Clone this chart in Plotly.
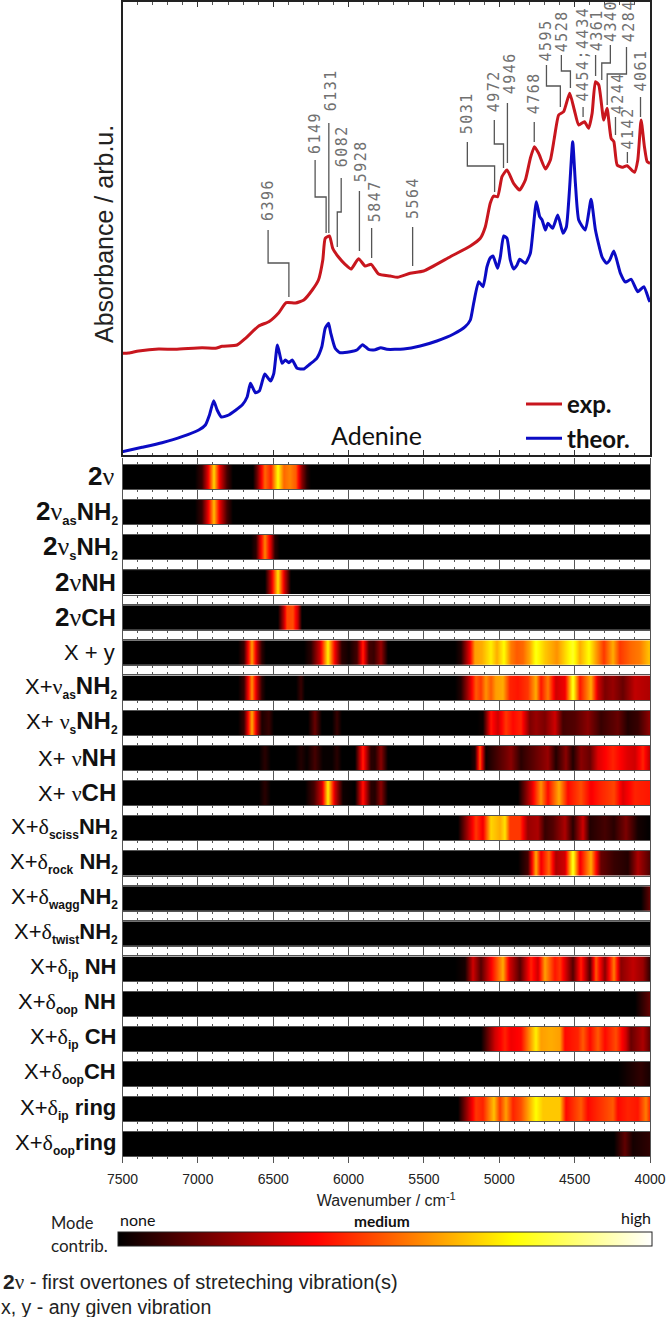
import plotly.graph_objects as go

W, H = 666, 1317

# ---- spectra (wavenumber, absorbance in arbitrary units) ----
wn_theor = [7503,7370,7238,7105,6994,6950,6923,6895,6872,6844,6795,6706,6673,6651,6618,6591,6556,6518,6496,6472,6441,6419,6396,6374,6341,6297,6255,6211,6178,6155,6133,6118,6089,6056,5989,5945,5907,5868,5823,5786,5746,5635,5525,5414,5303,5226,5192,5170,5137,5108,5082,5060,5042,5011,4993,4971,4949,4927,4905,4882,4865,4827,4794,4776,4754,4732,4716,4694,4677,4646,4612,4577,4555,4533,4513,4495,4473,4429,4391,4362,4318,4289,4267,4240,4196,4163,4125,4081,4041,4008,4000]
abs_theor = [3.3,7.7,12.3,18.3,25,30,40,54.3,45,38,40,50,58,71.7,62.3,64.3,81,74,81.7,110,91.7,95,92.3,95,86.7,86,91,96.7,108,126.7,131.7,121.7,106.7,102.3,103.3,105,110.3,105.7,105.3,107.3,105.7,106,109,114,121,128.3,135,151.7,173.3,168.3,188,197,199,186.7,198,219,216.7,195,186,190,195.7,191.7,201.7,225,253.3,238.3,235,225,231.7,226.7,240,221.7,228,268,313.3,271.7,235,225,255.7,225,198,191.7,195,204,181.7,173,175.7,163.3,168.3,155.7,153]
wn_exp = [7503,7459,7393,7260,7149,6972,6883,6839,6740,6684,6596,6529,6463,6414,6352,6297,6241,6200,6171,6155,6127,6105,6067,6023,5983,5934,5890,5850,5801,5724,5675,5591,5502,5325,5192,5126,5093,5060,5037,5011,4982,4949,4905,4865,4827,4794,4767,4739,4694,4661,4635,4606,4573,4533,4502,4473,4435,4407,4384,4362,4340,4307,4285,4258,4240,4218,4185,4152,4103,4081,4059,4037,4019,4000]
abs_exp = [101.7,102,104,106,105.7,107.3,106.7,108.7,110,116.7,129,133.3,142.3,152.3,152,155,165,175,195,216.7,219,206.7,198,190.7,186,196.3,189,190.7,181,179,177.7,181.7,184,198.3,209,216.7,228,251.7,259,258.3,278.3,285,271.7,265,275,296.7,308.3,301.7,286,295,316.7,340,343.3,361.7,345,330,333.3,326.7,341.7,373.3,370,335,346.7,316.7,313.3,290,287.7,289.3,282.7,295,335,308.3,293.3,291.7]

# ---- band labels and their leader lines, all in spectrum units ----
peak_text = ["6396","6149","6131","6082","5928","5847","5564","5031","4972","4946","4768","4595","4528","4454;4434","4361","4340","4284","4244","4142","4061"]
peak_wn   = [6396,6149,6131,6075,5928,5847,5575,5031,4972,4946,4768,4595,4528,4444,4361,4320,4284,4229,4150,4063]
peak_tip  = [158,222,222,208,204,197,189,263,287,292,313,348,367,338,379,375,350,320,292,338]
peak_knee = [192,258,None,243,None,None,None,289,311,None,None,369,384,None,None,392,381,None,None,None]
stem_wn   = [6534,6222,6131,6049,5928,5847,5575,5212,5033,4946,4768,4687,4588,4444,4361,4263,4156,4229,4150,4063]
stem_top  = [225,295,332,277,264,227,228,313,335,352,333,390,400,348,400,410,408,338,303,358]
text_wn   = [6534,6222,6115,6042,5916,5823,5572,5212,5033,4927,4768,4687,4582,4444,4350,4259,4138,4210,4143,4063]
text_base = [233,300,343,287,272,232,235,320,342,360,340,393,402,352,403,412,412,340,305,362]

# ---- heat strips: contribution read at the given wavenumbers ----
wn_2v = [7500,7020,6975,6935,6895,6855,6810,6770,6640,6610,6560,6520,6470,6430,6390,6350,6315,6280,6250,4000]
z_2v  = [0,0,.08,.33,.68,.33,.1,0,0,.15,.52,.42,.74,.52,.56,.5,.2,.05,0,0]
wn_2vas = [7500,7020,6975,6935,6895,6855,6810,6770,4000]
z_2vas  = [0,0,.08,.33,.64,.33,.1,0,0]
wn_2vs = [7500,6650,6620,6590,6555,6520,6490,6460,4000]
z_2vs  = [0,0,.06,.3,.56,.3,.06,0,0]
wn_2vnh = [7500,6560,6520,6470,6425,6385,4000]
z_2vnh  = [0,0,.28,.7,.28,0,0]
wn_2vch = [7500,6470,6435,6410,6370,6340,6310,4000]
z_2vch  = [0,0,.28,.47,.48,.28,0,0]
wn_xy = [7500,6740,6700,6675,6645,6610,6580,6550,6300,6250,6195,6140,6095,6050,6000,5950,5905,5865,5835,5785,5745,5300,5255,5200,5165,5120,5060,5020,4970,4925,4885,4845,4800,4760,4700,4660,4620,4570,4515,4470,4405,4360,4310,4250,4200,4130,4070,4010,4000]
z_xy  = [0,0,.08,.28,.6,.28,.06,0,0,.06,.3,.72,.35,.06,.02,.1,.42,.1,.08,.22,0,0,.05,.35,.6,.62,.72,.62,.74,.55,.5,.52,.62,.76,.66,.62,.58,.68,.78,.62,.74,.6,.45,.62,.45,.52,.55,.65,.62]
wn_xvas = [7500,6740,6700,6675,6645,6610,6580,6550,6350,6320,6290,5300,5255,5200,5156,5123,5090,5056,5023,4979,4935,4880,4813,4758,4725,4681,4625,4570,4515,4471,4393,4349,4305,4250,4183,4106,4000]
z_xvas  = [0,0,.08,.28,.58,.28,.06,0,0,.08,0,0,.05,.3,.5,.45,.58,.5,.6,.62,.42,.4,.45,.62,.4,.55,.3,.35,.78,.4,.62,.3,.18,.22,.15,.28,.25]
wn_xvs = [7500,6740,6700,6675,6645,6610,6575,6533,6495,6270,6223,6180,6110,6082,6050,5150,5112,5056,5012,4957,4913,4857,4802,4758,4703,4636,4581,4504,4415,4327,4217,4150,4084,4007,4000]
z_xvs  = [0,0,.08,.28,.62,.28,.04,.08,0,0,.15,0,0,.08,0,0,.02,.4,.3,.45,.38,.42,.18,.22,.18,.3,.1,.12,.2,.08,.15,.05,.08,.2,.2]
wn_xvnh = [7500,6600,6561,6520,6360,6321,6280,6223,6170,6110,6082,6050,5960,5907,5855,5825,5785,5745,5200,5165,5129,5090,5067,4928,4857,4681,4625,4559,4515,4460,4404,4349,4250,4150,4106,4051,4000]
z_xvnh  = [0,0,.06,0,0,.05,.01,.1,.01,.01,.06,0,0,.42,.06,.05,.2,0,0,.05,.5,.02,.05,.2,.06,.22,.05,.2,.05,.2,.15,.32,.42,.32,.3,.42,.25]
wn_xvch = [7500,6600,6561,6520,6295,6230,6180,6138,6095,6040,5960,5907,5855,5825,5785,5745,4880,4791,4725,4681,4610,4548,4460,4393,4327,4239,4183,4106,4000]
z_xvch  = [0,0,.06,0,0,.1,.3,.72,.3,.02,0,.4,.06,.05,.2,0,0,.3,.58,.38,.62,.38,.48,.36,.42,.47,.32,.42,.4]
wn_sci = [7500,5277,5200,5156,5112,5056,5001,4968,4935,4868,4813,4747,4703,4648,4570,4515,4449,4404,4305,4239,4161,4084,4000]
z_sci  = [0,0,.3,.45,.35,.68,.62,.7,.45,.45,.22,.25,.08,.12,.25,.06,.3,.05,.1,.06,.18,.03,0]
wn_rock = [7500,4880,4813,4758,4725,4676,4625,4570,4515,4471,4398,4327,4239,4150,4084,4000]
z_rock  = [0,0,.1,.62,.35,.52,.25,.3,.78,.35,.62,.15,.08,.05,.25,.1]
wn_wag = [7500,4060,4000]
z_wag  = [0,0,.16]
wn_twi = [7500,4000]
z_twi  = [0,0]
wn_ipnh = [7500,5300,5233,5178,5123,5045,4979,4935,4868,4791,4747,4698,4636,4603,4515,4460,4404,4360,4305,4239,4194,4117,4051,4000]
z_ipnh  = [0,0,.03,.3,.12,.4,.62,.3,.12,.42,.3,.6,.4,.45,.12,.42,.12,.5,.2,.55,.2,.28,.22,.05]
wn_oopnh = [7500,4106,4000]
z_oopnh  = [0,0,.15]
wn_ipch = [7500,5123,5034,4968,4924,4857,4758,4725,4659,4603,4570,4482,4449,4404,4349,4305,4228,4161,4128,4051,4000]
z_ipch  = [0,0,.3,.42,.35,.38,.72,.6,.62,.6,.38,.42,.5,.38,.5,.38,.48,.3,.15,.25,.12]
wn_oopch = [7500,4217,4150,4062,4000]
z_oopch  = [0,0,.03,.07,.03]
wn_ipr = [7500,5277,5200,5156,5112,5039,5001,4957,4913,4857,4758,4714,4603,4559,4460,4415,4360,4250,4217,4150,4084,4029,4000]
z_ipr  = [0,0,.3,.45,.42,.65,.45,.6,.42,.48,.74,.66,.66,.38,.5,.38,.42,.5,.38,.42,.4,.55,.4]
wn_oopr = [7500,4239,4172,4117,4000]
z_oopr  = [0,0,.14,.03,.07]

def greek(ch, size=None):
    fs = f"font-size:{size}px;" if size else ""
    return f'<span style="{fs}font-family:Liberation Serif;font-weight:normal">{ch}</span>'
def sub(s, size=12):
    return f'<sub><span style="font-size:{size}px;font-weight:bold">{s}</span></sub>'
def bold(s, size=22):
    return f'<span style="font-size:{size}px;font-weight:bold">{s}</span>'
NU, DE = greek("ν"), greek("δ")
NU2 = greek("ν", 26)
TWO = bold("2", 26)
NH2 = bold("NH") + sub("2")
NH2L = bold("NH", 24) + sub("2")

row_labels = [
    f'{TWO}{NU2}', f'{TWO}{NU2}{sub("as", 13)}{NH2L}', f'{TWO}{NU2}{sub("s", 13)}{NH2L}',
    f'{TWO}{NU2}{bold("NH", 24)}', f'{TWO}{NU2}{bold("CH", 24)}', 'X + y',
    f'X+{NU}{sub("as")}{NH2L}', f'X+ {NU}{sub("s")}{NH2L}', f'X+ {NU}{bold("NH", 24)}', f'X+ {NU}{bold("CH", 24)}',
    f'X+{DE}{sub("sciss")}{NH2}', f'X+{DE}{sub("rock")} {NH2}', f'X+{DE}{sub("wagg")}{NH2}',
    f'X+{DE}{sub("twist")}{NH2}', f'X+{DE}{sub("ip")} {bold("NH")}', f'X+{DE}{sub("oop")} {bold("NH")}',
    f'X+{DE}{sub("ip")} {bold("CH")}', f'X+{DE}{sub("oop")}{bold("CH")}', f'X+{DE}{sub("ip")} {bold("ring")}',
    f'X+{DE}{sub("oop")}{bold("ring")}',
]
row_label_right = [116,120,120,118,118,117,120,120,118,118,120,120,120,120,118,118,118,118,118,118]
rows = [(wn_2v,z_2v),(wn_2vas,z_2vas),(wn_2vs,z_2vs),(wn_2vnh,z_2vnh),(wn_2vch,z_2vch),(wn_xy,z_xy),
        (wn_xvas,z_xvas),(wn_xvs,z_xvs),(wn_xvnh,z_xvnh),(wn_xvch,z_xvch),(wn_sci,z_sci),(wn_rock,z_rock),
        (wn_wag,z_wag),(wn_twi,z_twi),(wn_ipnh,z_ipnh),(wn_oopnh,z_oopnh),(wn_ipch,z_ipch),(wn_oopch,z_oopch),
        (wn_ipr,z_ipr),(wn_oopr,z_oopr)]

# ---- layout helpers (pixels of the page to paper fractions) ----
def fx(px): return px / W
def fy(py): return 1 - py / H
L, R = 122.5, 650

RED, BLUE = "#c8161e", "#0b0bc4"
fig = go.Figure()
fig.add_trace(go.Scatter(x=wn_exp, y=abs_exp, mode="lines", name="exp.", line=dict(color=RED, width=3, shape="spline", smoothing=0.5), hoverinfo="skip"))
fig.add_trace(go.Scatter(x=wn_theor, y=abs_theor, mode="lines", name="theor.", line=dict(color=BLUE, width=3, shape="spline", smoothing=0.5), hoverinfo="skip"))

layout = dict(
    width=W, height=H, margin=dict(l=0, r=0, t=0, b=0, pad=0, autoexpand=False), paper_bgcolor="white", plot_bgcolor="white",
    font=dict(family="Liberation Sans", color="#222"),
    showlegend=True,
    legend=dict(x=fx(521), y=fy(382), xanchor="left", yanchor="top", bgcolor="rgba(0,0,0,0)",
                font=dict(family="Lato", size=24, weight="bold", color="#111"), itemwidth=36, tracegroupgap=0,
                itemclick=False, itemdoubleclick=False),
    xaxis=dict(domain=[fx(L), fx(R)], range=[7500, 4000], autorange=False, showgrid=False, zeroline=False,
               showline=True, linecolor="#222", linewidth=2, mirror="allticks", ticks="inside", ticklen=5,
               tickcolor="#333", tickwidth=1, dtick=500, tick0=4000, showticklabels=False,
               minor=dict(dtick=100, ticks="inside", ticklen=2.5, tickcolor="#555", tickwidth=1, showgrid=False)),
    yaxis=dict(domain=[fy(455), fy(2)], range=[0, 453], autorange=False, showgrid=False, zeroline=False,
               showline=True, linecolor="#222", linewidth=2, mirror=True, ticks="", showticklabels=False),
    coloraxis=dict(
        cmin=0, cmax=1,
        colorscale=[[0, "#000000"], [0.37, "#ff0000"], [0.74, "#ffff00"], [1, "#ffffff"]],
        colorbar=dict(orientation="h", x=fx(385), xanchor="center", xref="paper", y=fy(1247), yanchor="bottom", yref="paper",
                      lenmode="pixels", len=534, thicknessmode="pixels", thickness=14, outlinecolor="#222", outlinewidth=1,
                      xpad=0, ypad=0, ticks="", showticklabels=False, bgcolor="rgba(0,0,0,0)", borderwidth=0),
    ),
)

row_top0, row_pitch, row_h = 464.7, 35.12, 24.5
annotations, shapes = [], []
for i, (wn, z) in enumerate(rows):
    k = i + 2
    top = row_top0 + i * row_pitch
    bot = top + row_h
    last = i == len(rows) - 1
    fig.add_trace(go.Heatmap(x=wn, y=[0, 1], z=[z, z], coloraxis="coloraxis", zsmooth="best",
                             xaxis=f"x{k}", yaxis=f"y{k}", hoverinfo="skip", showlegend=False))
    xa = dict(domain=[fx(L), fx(R)], range=[7500, 4000], autorange=False, anchor=f"y{k}", showgrid=False, zeroline=False,
              showline=True, linecolor="#555", linewidth=1, mirror="allticks", ticks="outside", ticklen=5.5,
              tickcolor="#555", tickwidth=1, dtick=500, tick0=4000, showticklabels=last,
              minor=dict(dtick=100, ticks="outside", ticklen=2, tickcolor="#555", tickwidth=1, showgrid=False))
    if last:
        xa["tickfont"] = dict(family="Liberation Sans", size=14, color="#222")
        xa["ticklabelstandoff"] = 4
        xa["tickformat"] = "d"
        xa["title"] = dict(text="Wavenumber / cm<sup>-1</sup>", font=dict(family="Liberation Sans", size=16, color="#222"), standoff=9)
    layout[f"xaxis{k}"] = xa
    layout[f"yaxis{k}"] = dict(domain=[fy(bot), fy(top)], range=[0, 1], autorange=False, anchor=f"x{k}", showgrid=False,
                               zeroline=False, showline=True, linecolor="#555", linewidth=1, mirror=True, ticks="",
                               showticklabels=False)
    annotations.append(dict(text=row_labels[i], xref="paper", yref="paper", x=fx(row_label_right[i]), y=fy((top + bot) / 2 - 0.5),
                            xanchor="right", yanchor="middle", showarrow=False,
                            font=dict(family="Liberation Sans", size=22, color="#111")))

# band labels and leaders, anchored to the spectrum axes
for t, wn, tip, knee, swn, stop, twn, tb in zip(peak_text, peak_wn, peak_tip, peak_knee, stem_wn, stem_top, text_wn, text_base):
    if knee is None:
        path = f"M {swn},{stop} L {wn},{tip}"
    else:
        path = f"M {swn},{stop} L {swn},{knee} L {wn},{knee} L {wn},{tip}"
    shapes.append(dict(type="path", path=path, xref="x", yref="y", line=dict(color="#555", width=1.3), layer="above"))
    annotations.append(dict(text=f'<span style="letter-spacing:1.5px">{t}</span>', xref="x", yref="y", x=twn, y=tb, xanchor="center", yanchor="bottom", textangle=-90,
                            showarrow=False, borderpad=0, font=dict(family="DejaVu Sans Mono", size=15, color="#707070")))

def note(text, px, py, size, family="Liberation Sans", anchor="left", color="#222", angle=0):
    annotations.append(dict(text=text, xref="paper", yref="paper", x=fx(px), y=fy(py), xanchor=anchor, yanchor="middle",
                            showarrow=False, textangle=angle, borderpad=0, font=dict(family=family, size=size, color=color)))

note("Absorbance / arb.u.", 104, 234, 25, anchor="center", angle=-90)
note("Adenine", 377, 435, 25, family="Lato", anchor="center", color="#111")
note("Mode", 50, 1223, 16.5, family="Lato")
note("contrib.", 50, 1245, 17, family="Lato")
note("none", 137, 1219, 16, family="Lato", anchor="center", color="#111")
note("<b>medium</b>", 382, 1221, 15.5, family="Lato", anchor="center", color="#111")
note("high", 636, 1217, 16, family="Lato", anchor="center", color="#111")
note(f'{bold("2", 21)}{greek("ν", 21)} - first overtones of streteching vibration(s)', 2, 1282, 20)
note("x, y - any given vibration", 0, 1307, 19.5)

layout["annotations"] = annotations
layout["shapes"] = shapes
fig.update_layout(**layout)
fig.write_html("out.html", config=dict(displayModeBar=False),
               post_script="document.body.style.margin='0';")
